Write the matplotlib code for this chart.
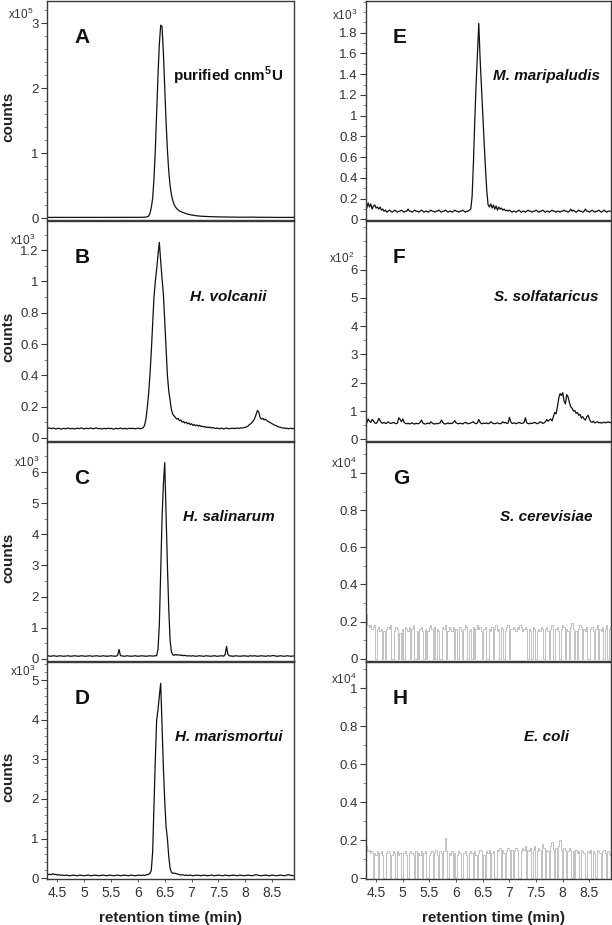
import numpy as np
import matplotlib
matplotlib.use("Agg")
import matplotlib.pyplot as plt
from matplotlib.ticker import FixedLocator, FormatStrFormatter

plt.rcParams['font.family'] = ['Liberation Sans', 'DejaVu Sans']
plt.rcParams['mathtext.fontset'] = 'custom'
plt.rcParams['mathtext.rm'] = 'Liberation Sans'
plt.rcParams['mathtext.bf'] = 'Liberation Sans:bold'

# all traces sampled every 0.025 min starting at 4.30 min
T0 = 4.30
DT = 0.025

# A: purified cnm5U (x10^5)
counts_a = [
    0.010, 0.011, 0.010, 0.010, 0.009, 0.010, 0.010, 0.011, 0.010, 0.010,
    0.010, 0.010, 0.011, 0.010, 0.010, 0.009, 0.010, 0.010, 0.010, 0.011,
    0.010, 0.010, 0.010, 0.010, 0.011, 0.010, 0.010, 0.009, 0.010, 0.010,
    0.010, 0.011, 0.010, 0.010, 0.010, 0.010, 0.009, 0.010, 0.010, 0.011,
    0.010, 0.010, 0.010, 0.010, 0.011, 0.010, 0.010, 0.010, 0.009, 0.010,
    0.010, 0.010, 0.011, 0.010, 0.010, 0.010, 0.010, 0.010, 0.011, 0.010,
    0.010, 0.010, 0.009, 0.010, 0.010, 0.010, 0.010, 0.010,
    0.010, 0.010, 0.010, 0.011, 0.012, 0.013, 0.015, 0.020, 0.030, 0.070,
    0.160, 0.300, 0.600, 1.050, 1.620, 2.200, 2.680, 2.970, 2.950, 2.550,
    2.000, 1.480, 1.050, 0.720, 0.500, 0.360, 0.270, 0.210, 0.170, 0.145,
    0.125, 0.110, 0.100, 0.090, 0.082, 0.075, 0.068, 0.062, 0.056, 0.051,
    0.047, 0.043, 0.040, 0.037, 0.034, 0.032, 0.030, 0.028, 0.027,
    0.026, 0.025, 0.024, 0.023, 0.022, 0.022, 0.021, 0.020, 0.020, 0.019, 0.019,
    0.018, 0.018, 0.017, 0.017, 0.016, 0.016, 0.016, 0.015, 0.015, 0.015,
    0.014, 0.014, 0.014, 0.014, 0.013, 0.013, 0.013, 0.013, 0.013, 0.012,
    0.012, 0.012, 0.012, 0.012, 0.013, 0.015, 0.014, 0.012, 0.012, 0.012,
    0.012, 0.011, 0.011, 0.011, 0.011, 0.011, 0.011, 0.011, 0.011, 0.011,
    0.011, 0.010, 0.010, 0.010, 0.010, 0.010, 0.010, 0.010, 0.010, 0.010,
    0.010, 0.010, 0.010, 0.010, 0.010, 0.010, 0.010,
]

# B: H. volcanii (x10^3)
counts_b = [
    0.062, 0.060, 0.064, 0.061, 0.059, 0.063, 0.060, 0.057, 0.059, 0.062,
    0.058, 0.056, 0.059, 0.061, 0.058, 0.060, 0.063, 0.060, 0.058, 0.061,
    0.059, 0.057, 0.060, 0.062, 0.059, 0.061, 0.064, 0.060, 0.058, 0.060,
    0.062, 0.059, 0.061, 0.063, 0.060, 0.058, 0.061, 0.064, 0.061, 0.059,
    0.060, 0.057, 0.059, 0.061, 0.058, 0.060, 0.062, 0.059, 0.061, 0.058,
    0.056, 0.059, 0.061, 0.058, 0.060, 0.063, 0.060, 0.058, 0.061, 0.059,
    0.057, 0.060, 0.062, 0.059, 0.061, 0.060, 0.058, 0.060, 0.062, 0.060,
    0.059, 0.061,
    0.065, 0.080, 0.120, 0.190, 0.280, 0.400, 0.550, 0.720, 0.900, 1.000,
    1.080, 1.170, 1.250, 1.130, 1.020, 0.920, 0.750, 0.580, 0.400, 0.300,
    0.240, 0.180, 0.150, 0.140, 0.130, 0.120, 0.125, 0.110, 0.115, 0.100,
    0.105, 0.095, 0.100, 0.090, 0.095, 0.085, 0.090, 0.080, 0.085, 0.078,
    0.082, 0.075, 0.080, 0.072, 0.075, 0.070, 0.072, 0.066, 0.070, 0.065,
    0.068, 0.063, 0.066, 0.062, 0.060, 0.063, 0.060,
    0.058, 0.062, 0.060, 0.057, 0.060, 0.063, 0.060, 0.058, 0.061, 0.060,
    0.062, 0.059, 0.061, 0.063, 0.060, 0.062, 0.064, 0.063, 0.066, 0.068,
    0.070,
    0.075, 0.085, 0.090, 0.100, 0.110, 0.125, 0.150, 0.175, 0.165, 0.130,
    0.120, 0.125, 0.115, 0.120, 0.110, 0.105, 0.100, 0.095, 0.090, 0.085,
    0.080, 0.078, 0.072, 0.070, 0.068, 0.065, 0.062, 0.064, 0.060, 0.062,
    0.058, 0.060, 0.062, 0.058, 0.060,
]

# C: H. salinarum (x10^3)
counts_c = [
    0.09, 0.10, 0.09, 0.08, 0.09, 0.10, 0.09, 0.09, 0.08, 0.09,
    0.10, 0.09, 0.09, 0.08, 0.09, 0.09, 0.10, 0.09, 0.08, 0.09,
    0.09, 0.10, 0.09, 0.09, 0.08, 0.09, 0.10, 0.09, 0.09, 0.08,
    0.09, 0.09, 0.10, 0.09, 0.08, 0.09, 0.09, 0.10, 0.09, 0.09,
    0.08, 0.09, 0.10, 0.09, 0.09, 0.08, 0.09, 0.09, 0.10, 0.09,
    0.09, 0.08, 0.09, 0.12, 0.30, 0.11, 0.09, 0.09, 0.08, 0.09,
    0.10, 0.09, 0.09, 0.08, 0.09, 0.09, 0.10, 0.09, 0.08, 0.09,
    0.09, 0.10, 0.09, 0.09, 0.08, 0.09, 0.09, 0.10, 0.09, 0.09,
    0.09, 0.10,
    0.10, 0.30, 1.10, 2.80, 4.50, 5.60, 6.30, 4.60, 3.00, 1.60,
    0.60, 0.22, 0.13, 0.11,
    0.14, 0.12, 0.13, 0.12, 0.11, 0.12, 0.10, 0.11, 0.10, 0.09,
    0.10, 0.09, 0.09, 0.10, 0.09, 0.08, 0.09, 0.09, 0.10, 0.09,
    0.09, 0.08, 0.09, 0.10, 0.09, 0.09, 0.08, 0.09, 0.09, 0.10,
    0.09, 0.08, 0.09, 0.09, 0.10, 0.09, 0.09, 0.14, 0.40, 0.15,
    0.10, 0.09, 0.09, 0.08, 0.09, 0.10, 0.09, 0.09, 0.08, 0.09,
    0.09, 0.10, 0.09, 0.09, 0.08, 0.09, 0.10, 0.09, 0.09, 0.10,
    0.09, 0.08, 0.09, 0.09, 0.10, 0.09, 0.09, 0.08, 0.09, 0.10,
    0.09, 0.09, 0.10, 0.11, 0.09, 0.09, 0.08, 0.09, 0.10, 0.09,
    0.09, 0.08, 0.09, 0.10, 0.09, 0.09, 0.08, 0.09, 0.09,
]

# D: H. marismortui (x10^3)
counts_d = [
    0.08, 0.09, 0.10, 0.09, 0.10, 0.11, 0.09, 0.10, 0.08, 0.09,
    0.08, 0.07, 0.08, 0.07, 0.07, 0.08, 0.07, 0.06, 0.07, 0.07,
    0.08, 0.07, 0.07, 0.06, 0.07, 0.08, 0.07, 0.07, 0.06, 0.07,
    0.07, 0.08, 0.07, 0.06, 0.07, 0.07, 0.08, 0.07, 0.07, 0.06,
    0.07, 0.07, 0.08, 0.07, 0.07, 0.06, 0.07, 0.08, 0.07, 0.07,
    0.06, 0.07, 0.07, 0.08, 0.07, 0.06, 0.07, 0.07, 0.08, 0.07,
    0.07, 0.06, 0.07, 0.08, 0.07, 0.07, 0.06, 0.07, 0.07, 0.08,
    0.07, 0.07, 0.08, 0.07, 0.08, 0.09, 0.10, 0.12,
    0.20, 0.65, 1.80, 3.00, 4.00, 4.25, 4.60, 4.92, 3.90, 2.80,
    1.95, 1.30, 1.00, 0.55, 0.25, 0.15, 0.12, 0.13, 0.12, 0.11,
    0.10, 0.09,
    0.08, 0.09, 0.08, 0.07, 0.08, 0.07, 0.07, 0.08, 0.07, 0.06,
    0.07, 0.07, 0.08, 0.07, 0.07, 0.06, 0.07, 0.08, 0.07, 0.07,
    0.06, 0.07, 0.07, 0.08, 0.07, 0.06, 0.07, 0.07, 0.08, 0.07,
    0.07, 0.06, 0.07, 0.08, 0.07, 0.07, 0.06, 0.07, 0.07, 0.08,
    0.07, 0.07, 0.06, 0.07, 0.08, 0.07, 0.07, 0.06, 0.07, 0.07,
    0.08, 0.07, 0.07, 0.06, 0.07, 0.08, 0.09, 0.08, 0.07, 0.07,
    0.06, 0.07, 0.07, 0.08, 0.07, 0.07, 0.06, 0.07, 0.08, 0.07,
    0.07, 0.06, 0.07, 0.07, 0.08, 0.07, 0.07, 0.06, 0.07, 0.08,
    0.09, 0.08, 0.07, 0.07, 0.06,
]

# E: M. maripaludis (x10^3)
counts_e = [
    0.14, 0.11, 0.16, 0.12, 0.15, 0.10, 0.13, 0.14, 0.11, 0.12,
    0.10, 0.12, 0.09,
    0.10, 0.08, 0.09, 0.07, 0.08, 0.09, 0.08, 0.07, 0.08, 0.09,
    0.08, 0.07, 0.08, 0.08, 0.09, 0.08, 0.07, 0.08, 0.08, 0.10,
    0.08, 0.08, 0.07, 0.08, 0.09, 0.08, 0.08, 0.07, 0.08, 0.09,
    0.08, 0.07, 0.08, 0.08, 0.07, 0.08, 0.09, 0.08, 0.08, 0.07,
    0.08, 0.08, 0.09, 0.08, 0.07, 0.08, 0.08, 0.09, 0.08, 0.07,
    0.08, 0.08, 0.07, 0.08, 0.09, 0.08, 0.08, 0.07, 0.08, 0.08,
    0.09, 0.08, 0.07, 0.08, 0.08, 0.09,
    0.10, 0.22, 0.55, 0.95, 1.30, 1.60, 1.89, 1.55, 1.28, 1.00,
    0.75, 0.50, 0.28, 0.14,
    0.12, 0.15, 0.11, 0.14, 0.10, 0.13, 0.09, 0.12, 0.10, 0.11,
    0.09, 0.10, 0.085, 0.09, 0.08, 0.09,
    0.08, 0.07, 0.08, 0.08, 0.07, 0.08, 0.09, 0.08, 0.07, 0.08,
    0.08, 0.07, 0.08, 0.09, 0.08, 0.08, 0.07, 0.08, 0.08, 0.09,
    0.08, 0.07, 0.08, 0.08, 0.09, 0.08, 0.07, 0.08, 0.08, 0.07,
    0.08, 0.09, 0.08, 0.08, 0.07, 0.08, 0.08, 0.07, 0.08, 0.08,
    0.09, 0.08, 0.08, 0.07, 0.08, 0.10, 0.08, 0.09, 0.08, 0.07,
    0.08, 0.09, 0.08, 0.08, 0.07, 0.08, 0.10, 0.08, 0.08, 0.07,
    0.08, 0.09, 0.08, 0.07, 0.08, 0.08, 0.09, 0.08, 0.07, 0.08,
    0.09, 0.08, 0.07, 0.08, 0.08, 0.08,
]

# F: S. solfataricus (x10^2)
counts_f = [
    0.62, 0.58, 0.72, 0.64, 0.60, 0.70, 0.65, 0.58, 0.56, 0.62,
    0.74, 0.66, 0.58, 0.57, 0.60, 0.56, 0.57, 0.62, 0.58, 0.56,
    0.58, 0.60, 0.57, 0.55, 0.58, 0.76, 0.70, 0.62, 0.72, 0.60,
    0.56, 0.55, 0.57, 0.54, 0.56, 0.58, 0.55, 0.54, 0.57, 0.55,
    0.56, 0.60, 0.68, 0.58, 0.55, 0.54, 0.56, 0.57, 0.55, 0.62,
    0.58, 0.55, 0.54, 0.56, 0.55, 0.57, 0.58, 0.68, 0.60, 0.55,
    0.54, 0.56, 0.58, 0.55, 0.57, 0.56, 0.60, 0.66, 0.58, 0.56,
    0.55, 0.57, 0.56, 0.54, 0.58, 0.60, 0.57, 0.55, 0.56, 0.58,
    0.60, 0.62, 0.57, 0.55, 0.58, 0.70, 0.60, 0.55, 0.56, 0.57,
    0.56, 0.58, 0.55, 0.57, 0.62, 0.58, 0.56, 0.55, 0.57, 0.58,
    0.56, 0.55, 0.57, 0.62, 0.58, 0.60, 0.56, 0.57, 0.78, 0.62,
    0.56, 0.57, 0.58, 0.55, 0.57, 0.60, 0.58, 0.56, 0.57, 0.60,
    0.76, 0.58, 0.56, 0.55, 0.57, 0.56, 0.58, 0.60, 0.57, 0.55,
    0.58, 0.62, 0.60, 0.56, 0.58, 0.62, 0.70, 0.64, 0.68, 0.72,
    0.65, 0.80, 0.95, 0.90, 1.15, 1.45, 1.62, 1.55, 1.65, 1.35,
    1.25, 1.58, 1.50, 1.30, 1.15, 1.10, 1.00, 1.02, 0.92, 0.95,
    0.85, 0.88, 0.75, 0.80, 0.72, 0.68, 0.80, 0.85, 0.72, 0.62,
    0.60, 0.64, 0.58, 0.60, 0.62, 0.58, 0.60, 0.57, 0.59, 0.61,
    0.58, 0.60, 0.62, 0.59, 0.60,
]

# G: S. cerevisiae (x10^4), signal drops out to zero often
counts_g = [
    0.38, 0.24, 0.18, 0.17, 0.18, 0.16, 0.17, 0.18, 0.00, 0.16,
    0.17, 0.15, 0.16, 0.00, 0.15, 0.00, 0.16, 0.17, 0.16, 0.18,
    0.00, 0.00, 0.15, 0.17, 0.16, 0.00, 0.14, 0.00, 0.16, 0.00,
    0.17, 0.16, 0.15, 0.17, 0.00, 0.16, 0.18, 0.00, 0.00, 0.15,
    0.00, 0.16, 0.17, 0.15, 0.00, 0.16, 0.00, 0.15, 0.17, 0.18,
    0.16, 0.00, 0.17, 0.00, 0.16, 0.15, 0.00, 0.00, 0.17, 0.16,
    0.18, 0.00, 0.15, 0.17, 0.16, 0.15, 0.17, 0.00, 0.16, 0.00,
    0.00, 0.17, 0.15, 0.00, 0.16, 0.18, 0.17, 0.00, 0.15, 0.16,
    0.00, 0.17, 0.00, 0.16, 0.18, 0.16, 0.17, 0.15, 0.00, 0.16,
    0.17, 0.00, 0.00, 0.16, 0.15, 0.17, 0.00, 0.16, 0.18, 0.15,
    0.16, 0.00, 0.17, 0.16, 0.00, 0.15, 0.17, 0.18, 0.00, 0.16,
    0.16, 0.17, 0.16, 0.15, 0.17, 0.16, 0.18, 0.17, 0.15, 0.16,
    0.17, 0.16, 0.00, 0.16, 0.15, 0.00, 0.17, 0.16, 0.00, 0.15,
    0.16, 0.15, 0.17, 0.16, 0.00, 0.16, 0.17, 0.15, 0.00, 0.16,
    0.18, 0.00, 0.00, 0.16, 0.17, 0.15, 0.00, 0.16, 0.18, 0.17,
    0.00, 0.16, 0.15, 0.00, 0.17, 0.19, 0.16, 0.00, 0.15, 0.00,
    0.16, 0.18, 0.17, 0.00, 0.16, 0.15, 0.17, 0.00, 0.00, 0.16,
    0.17, 0.15, 0.00, 0.16, 0.18, 0.00, 0.16, 0.15, 0.17, 0.00,
    0.16, 0.18, 0.00, 0.16, 0.17,
]

# H: E. coli (x10^4)
counts_h = [
    0.33, 0.17, 0.14, 0.15, 0.13, 0.14, 0.00, 0.13, 0.12, 0.14,
    0.00, 0.13, 0.14, 0.12, 0.00, 0.00, 0.13, 0.14, 0.13, 0.00,
    0.12, 0.14, 0.13, 0.00, 0.14, 0.12, 0.13, 0.00, 0.00, 0.13,
    0.14, 0.12, 0.00, 0.13, 0.14, 0.13, 0.12, 0.00, 0.14, 0.00,
    0.13, 0.12, 0.14, 0.00, 0.13, 0.14, 0.00, 0.00, 0.12, 0.13,
    0.14, 0.00, 0.13, 0.15, 0.12, 0.00, 0.14, 0.13, 0.00, 0.14,
    0.21, 0.14, 0.00, 0.13, 0.12, 0.14, 0.00, 0.13, 0.00, 0.12,
    0.14, 0.13, 0.00, 0.00, 0.13, 0.14, 0.12, 0.00, 0.13, 0.14,
    0.13, 0.00, 0.14, 0.12, 0.00, 0.13, 0.15, 0.14, 0.00, 0.12,
    0.00, 0.14, 0.13, 0.15, 0.00, 0.13, 0.14, 0.00, 0.00, 0.15,
    0.14, 0.16, 0.00, 0.15, 0.13, 0.00, 0.14, 0.16, 0.15, 0.00,
    0.15, 0.00, 0.14, 0.16, 0.15, 0.00, 0.00, 0.14, 0.16, 0.15,
    0.17, 0.00, 0.15, 0.14, 0.16, 0.00, 0.15, 0.17, 0.00, 0.14,
    0.16, 0.15, 0.00, 0.18, 0.16, 0.00, 0.15, 0.14, 0.00, 0.17,
    0.19, 0.15, 0.00, 0.16, 0.00, 0.17, 0.20, 0.15, 0.00, 0.16,
    0.15, 0.00, 0.14, 0.16, 0.15, 0.00, 0.14, 0.00, 0.15, 0.13,
    0.14, 0.00, 0.15, 0.14, 0.13, 0.00, 0.00, 0.14, 0.13, 0.15,
    0.00, 0.14, 0.13, 0.00, 0.15, 0.14, 0.13, 0.00, 0.14, 0.15,
    0.13, 0.00, 0.14, 0.13, 0.12,
]

panel_letters = ['A', 'B', 'C', 'D', 'E', 'F', 'G', 'H']
sample_names = ['purified cnm$^\\mathbf{5}$U', 'H. volcanii', 'H. salinarum', 'H. marismortui',
                'M. maripaludis', 'S. solfataricus', 'S. cerevisiae', 'E. coli']
exponents = [5, 3, 3, 3, 3, 2, 4, 4]
ylims = [(-0.03, 3.35), (-0.02, 1.39), (-0.07, 6.98), (-0.02, 5.47),
         (-0.005, 2.11), (-0.06, 7.74), (-0.012, 1.17), (-0.005, 1.14)]
y_major = [1, 0.2, 1, 1, 0.2, 1, 0.2, 0.2]
y_minor = [0.2, 0.1, 0.5, 0.2, 0.1, 0.5, 0.1, 0.1]
y_top_tick = [3, 1.2, 6, 5, 1.8, 6, 1, 1]
all_counts = [counts_a, counts_b, counts_c, counts_d, counts_e, counts_f, counts_g, counts_h]
x_ticks = [4.5, 5, 5.5, 6, 6.5, 7, 7.5, 8, 8.5]
x_range = (4.31, 8.905)

# where the "x10^n" note sits relative to the top tick (pixels)
exp_dx = [-14, -12, -8, -12, -9, -12, -9, -9]
exp_dy = [9, 10, 10, 9, 17, 11, 10, 9]

W, H = 612, 925
fig = plt.figure(figsize=(W / 100, H / 100), dpi=100)

row_edges = [0, 220, 441, 661, 879]   # pixel rows of panel borders
col_edges = [(47, 294), (366, 611)]

axis_col = '#3a3a3a'
for k in range(8):
    col, row = divmod(k, 4)
    x0, x1 = col_edges[col]
    top, bot = row_edges[row], row_edges[row + 1]
    ax = fig.add_axes([x0 / W, 1 - bot / H, (x1 - x0) / W, (bot - top - 0.5) / H])

    y = np.array(all_counts[k])
    t = T0 + DT * np.arange(len(y))
    if k >= 6:
        ax.plot(t, y, color='#b8b8b8', lw=0.6, drawstyle='steps-mid')
    else:
        ax.plot(t, y, color='#111111', lw=0.9)

    ax.set_xlim(*x_range)
    ax.set_ylim(*ylims[k])
    major = np.arange(0, y_top_tick[k] + 1e-6, y_major[k])
    minor = np.arange(0, ylims[k][1], y_minor[k])
    ax.yaxis.set_major_locator(FixedLocator(major))
    ax.yaxis.set_minor_locator(FixedLocator(minor))
    ax.yaxis.set_major_formatter(FormatStrFormatter('%g'))
    ax.tick_params(axis='y', which='major', direction='out', length=4, width=0.8,
                   colors=axis_col, labelsize=9.5, labelcolor='#333333', pad=2)
    ax.tick_params(axis='y', which='minor', direction='out', length=2, width=0.6, colors='#777777')
    ax.set_xticks(x_ticks)
    for s in ax.spines.values():
        s.set_color(axis_col)
        s.set_linewidth(1.0)

    if row == 3:
        ax.tick_params(axis='x', direction='out', length=2, width=0.6, colors=axis_col,
                       labelsize=10, labelcolor='#333333', pad=3)
        ax.set_xticklabels(['%g' % v for v in x_ticks])
        ax.set_xlabel('retention time (min)', fontsize=11, fontweight='bold', color='#222222')
        ax.xaxis.set_label_coords(0.5 if col == 0 else 0.52, -0.145)
    else:
        ax.tick_params(axis='x', length=0, labelbottom=False)

    if col == 0:
        ax.text(-0.158, 0.47, 'counts', transform=ax.transAxes, rotation=90,
                ha='center', va='center', fontsize=11, fontweight='bold', color='#222222')

    ax.annotate('x10$^{%d}$' % exponents[k], xy=(0, y_top_tick[k]),
                xycoords=('axes fraction', 'data'), xytext=(exp_dx[k], exp_dy[k]),
                textcoords='offset pixels', ha='right', va='center',
                fontsize=8.5, color='#333333')

    ax.text(0.11, 0.83, panel_letters[k], transform=ax.transAxes, fontsize=15,
            fontweight='bold', ha='left', va='center', color='#111111')
    style = 'normal' if k == 0 else 'italic'
    ax.text(0.735, 0.655, sample_names[k], transform=ax.transAxes, fontsize=11,
            fontweight='bold', fontstyle=style, ha='center', va='center', color='#111111')

fig.savefig('out.png', dpi=100)
